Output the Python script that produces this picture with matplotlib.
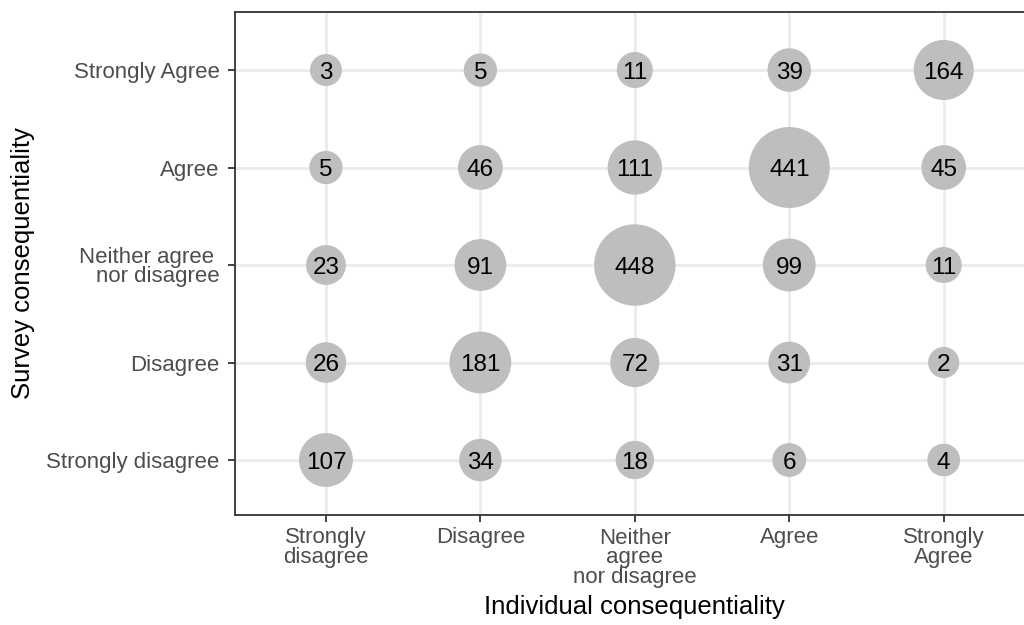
import numpy as np
import matplotlib
matplotlib.use('Agg')
import matplotlib.pyplot as plt

### Data ###

individual_levels = ['Strongly\ndisagree', 'Disagree', 'Neither\nagree\nnor disagree',
                     'Agree', 'Strongly\nAgree']
survey_levels = ['Strongly disagree', 'Disagree', 'Neither agree \nnor disagree',
                 'Agree', 'Strongly Agree']

# counts[survey][individual], survey from Strongly disagree upwards
counts_sd = [107, 34, 18, 6, 4]
counts_d = [26, 181, 72, 31, 2]
counts_n = [23, 91, 448, 99, 11]
counts_a = [5, 46, 111, 441, 45]
counts_sa = [3, 5, 11, 39, 164]
counts = [counts_sd, counts_d, counts_n, counts_a, counts_sa]

### Plot ###

DPI = 100
FONT = 'Liberation Sans'

def bubble_size(v):
    # diameter in pixels grows with sqrt(count), converted to points^2
    d_px = 27.6 + 2.54 * np.sqrt(v)
    return (d_px * 72.0 / DPI) ** 2

fig = plt.figure(figsize=(10.24, 6.25), dpi=DPI)
W, H = 1024.0, 625.0
left, top, bottom = 235, 12, 515
ax = fig.add_axes([left / W, 1 - bottom / H, 1 - left / W + 0.01, (bottom - top) / H])

xs, ys, vals = [], [], []
for yi, row in enumerate(counts):
    for xi, v in enumerate(row):
        xs.append(xi + 1)
        ys.append(yi + 1)
        vals.append(v)

ax.scatter(xs, ys, s=[bubble_size(v) for v in vals], color='#bebebe',
           edgecolors='none', zorder=3)
for x, y, v in zip(xs, ys, vals):
    ax.text(x, y, str(v), ha='center', va='center_baseline', fontsize=17.5,
            family=FONT, color='black', zorder=4)

ax.set_xlim(0.411, 5.52 + 0.01 * W / 154.5)
ax.set_ylim(0.436, 5.595)
ax.set_xticks(range(1, 6))
ax.set_xticklabels(individual_levels, family=FONT, fontsize=16,
                   color='#4d4d4d', linespacing=0.92)
ax.set_yticks(range(1, 6))
ax.set_yticklabels(survey_levels, family=FONT, fontsize=16,
                   color='#4d4d4d', linespacing=0.92, ha='right')
ax.tick_params(length=5, width=1.3, color='#333333')
ax.tick_params(axis='y', pad=6)
ax.tick_params(axis='x', pad=4)

ax.grid(True, color='#ebebeb', linewidth=2, zorder=0)
ax.set_axisbelow(True)
for side in ['left', 'top', 'bottom']:
    ax.spines[side].set_color('#333333')
    ax.spines[side].set_linewidth(1.3)
ax.spines['right'].set_visible(False)

ax.set_xlabel('Individual consequentiality', family=FONT, fontsize=18.5,
              color='black', labelpad=5)
ax.set_ylabel('Survey consequentiality', family=FONT, fontsize=18.5,
              color='black', labelpad=8)

fig.savefig('out.png', dpi=DPI)
plt.close(fig)
